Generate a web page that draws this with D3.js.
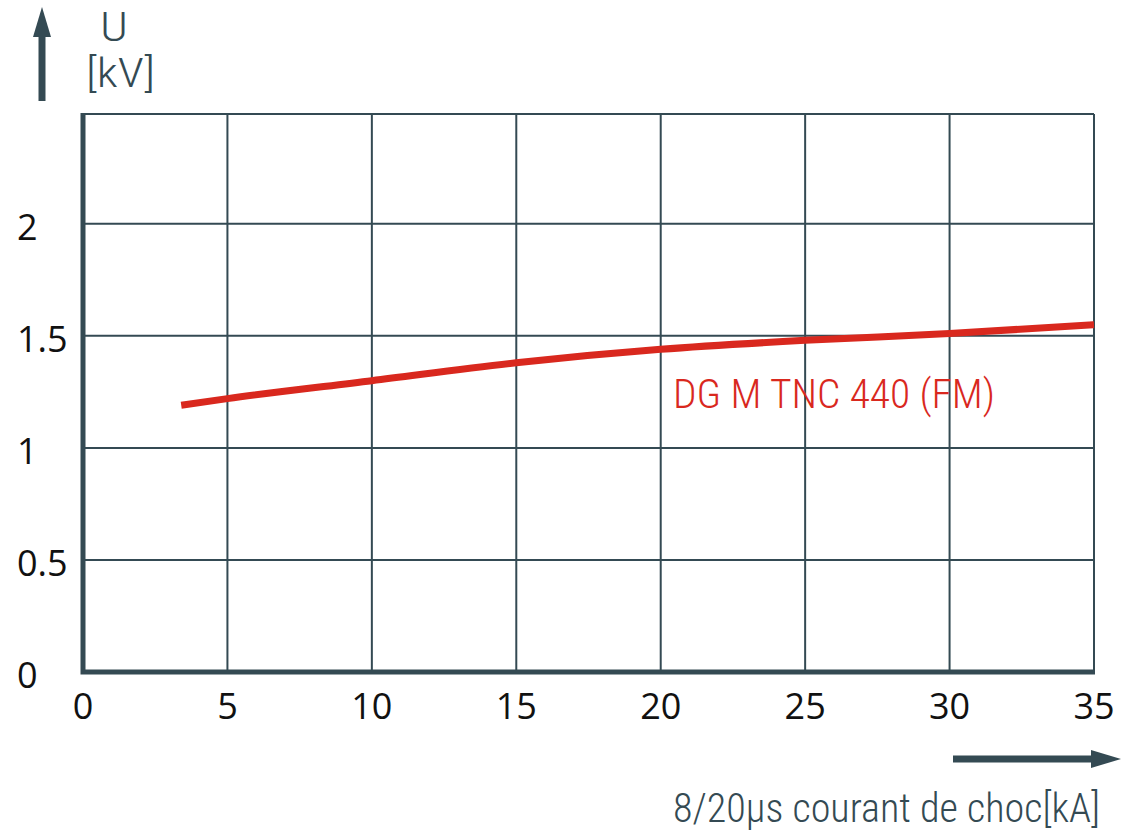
<!DOCTYPE html>
<html lang="fr">
<head>
<meta charset="UTF-8">
<title>DG M TNC 440 (FM)</title>
<script src="https://d3js.org/d3.v7.min.js"></script>
<style>
  body { margin: 0; background: #fff; }
  .tick-label { font-family: "Open Sans", "Noto Sans", sans-serif; font-size: 36px; fill: #111; }
  .narrow { font-family: "Roboto Condensed", "Liberation Sans Narrow", "Liberation Sans", sans-serif; font-size: 41px; font-weight: 300; }
</style>
</head>
<body>
<svg width="1124" height="835"></svg>
<script>
// current (kA) vs residual voltage (kV)
const current = [3.4, 5, 10, 15, 20, 25, 30, 35];
const voltage = [1.19, 1.22, 1.30, 1.38, 1.44, 1.48, 1.51, 1.55];
const xTicks = [0, 5, 10, 15, 20, 25, 30, 35];
const yTicks = [0, 0.5, 1, 1.5, 2];
const seriesName = "DG M TNC 440 (FM)";

const svg = d3.select("svg");
const dark = "#344a53", red = "#d9281e";

const x = d3.scaleLinear().domain([0, 35]).range([83, 1094]);
const y = d3.scaleLinear().domain([0, 2.49]).range([672, 114]);

// grid
svg.append("g").selectAll("line").data(xTicks.slice(1))
  .enter().append("line")
  .attr("x1", d => x(d)).attr("x2", d => x(d))
  .attr("y1", y(2.49)).attr("y2", y(0))
  .attr("stroke", dark).attr("stroke-width", 2);

svg.append("g").selectAll("line").data(yTicks.slice(1).concat([2.49]))
  .enter().append("line")
  .attr("x1", x(0)).attr("x2", x(35))
  .attr("y1", d => y(d)).attr("y2", d => y(d))
  .attr("stroke", dark).attr("stroke-width", 2);

// thick axes
svg.append("path")
  .attr("d", `M${x(0)},${y(2.49) - 1}V${y(0)}H${x(35) + 1}`)
  .attr("fill", "none").attr("stroke", dark).attr("stroke-width", 5);

// curve
const line = d3.line().x(d => x(d[0])).y(d => y(d[1])).curve(d3.curveMonotoneX);
svg.append("path")
  .datum(d3.zip(current, voltage))
  .attr("d", line)
  .attr("fill", "none").attr("stroke", red).attr("stroke-width", 7);

// tick labels
svg.append("g").selectAll("text").data(yTicks)
  .enter().append("text").attr("class", "tick-label")
  .attr("x", 17).attr("y", d => y(d) + 16)
  .text(d => d);

svg.append("g").selectAll("text").data(xTicks)
  .enter().append("text").attr("class", "tick-label")
  .attr("text-anchor", "middle")
  .attr("x", d => x(d)).attr("y", 719)
  .text(d => d);

// series label
svg.append("text").attr("class", "narrow")
  .attr("x", 673).attr("y", 408).attr("fill", red)
  .attr("textLength", 322).attr("lengthAdjust", "spacingAndGlyphs")
  .text(seriesName);

// y axis title + arrow
svg.append("text").attr("class", "narrow").attr("fill", dark)
  .attr("x", 100).attr("y", 41)
  .attr("textLength", 28).attr("lengthAdjust", "spacingAndGlyphs").text("U");
svg.append("text").attr("class", "narrow").attr("fill", dark)
  .attr("x", 86).attr("y", 87)
  .attr("textLength", 69).attr("lengthAdjust", "spacingAndGlyphs").text("[kV]");
svg.append("line").attr("x1", 42).attr("x2", 42).attr("y1", 101).attr("y2", 30)
  .attr("stroke", dark).attr("stroke-width", 7);
svg.append("path").attr("d", "M42,7L51,37H33Z").attr("fill", dark);

// x axis title + arrow
svg.append("line").attr("x1", 953).attr("x2", 1098).attr("y1", 759).attr("y2", 759)
  .attr("stroke", dark).attr("stroke-width", 7);
svg.append("path").attr("d", "M1121,759L1091,750V768Z").attr("fill", dark);
svg.append("text").attr("class", "narrow").attr("fill", dark)
  .attr("x", 673).attr("y", 822)
  .attr("textLength", 427).attr("lengthAdjust", "spacingAndGlyphs")
  .text("8/20µs courant de choc[kA]");
</script>
</body>
</html>
